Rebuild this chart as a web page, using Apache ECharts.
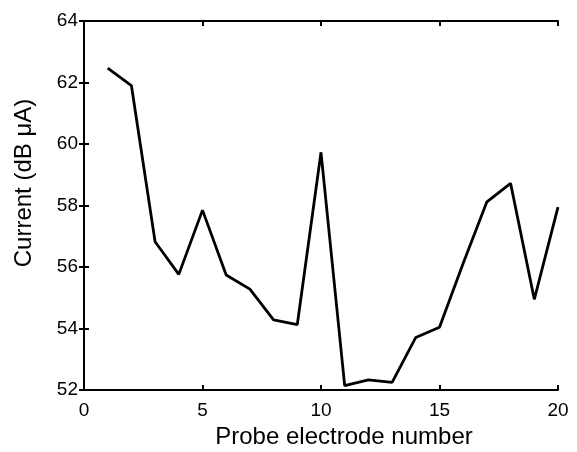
<!DOCTYPE html>
<html>
<head>
<meta charset="utf-8">
<script src="https://cdn.jsdelivr.net/npm/echarts@6/dist/echarts.min.js"></script>
<style>
html,body{margin:0;padding:0;background:#fff;}
#chart{width:577px;height:452px;}
</style>
</head>
<body>
<div id="chart"></div>
<script>
var electrodes = [1,2,3,4,5,6,7,8,9,10,11,12,13,14,15,16,17,18,19,20];
var current = [62.47,61.9,56.82,55.76,57.85,55.74,55.28,54.28,54.13,59.73,52.14,52.33,52.25,53.71,54.04,56.12,58.12,58.72,54.95,57.95];
var xTicks = [0,5,10,15,20];
var yTicks = [52,54,56,58,60,62,64];

var font = 'Liberation Sans, Arial, Helvetica, sans-serif';
var chart = echarts.init(document.getElementById('chart'));
var axisLineStyle = {show:true, lineStyle:{color:'#000', width:2}};
var tickStyle = {show:true, inside:true, length:5, lineStyle:{color:'#000', width:2}};
chart.setOption({
  animation:false,
  backgroundColor:'#fff',
  grid:{left:84, right:19, top:21, bottom:62, outerBoundsMode:'none', containLabel:false},
  xAxis:[{
    type:'value', min:xTicks[0], max:xTicks[xTicks.length-1], interval:5,
    position:'bottom',
    name:'Probe electrode number', nameLocation:'middle', nameGap:33,
    nameTextStyle:{fontFamily:font, fontSize:24, color:'#000', padding:[0,0,0,46]},
    axisLine:axisLineStyle, axisTick:tickStyle, splitLine:{show:false},
    axisLabel:{fontFamily:font, fontSize:19, color:'#000', margin:11}
  },{
    type:'value', min:xTicks[0], max:xTicks[xTicks.length-1], interval:5,
    position:'top',
    axisLine:axisLineStyle, axisTick:tickStyle, splitLine:{show:false},
    axisLabel:{show:false}
  }],
  yAxis:[{
    type:'value', min:yTicks[0], max:yTicks[yTicks.length-1], interval:2,
    position:'left',
    name:'Current (dB \u03bcA)', nameLocation:'middle', nameGap:48,
    nameTextStyle:{fontFamily:font, fontSize:24, color:'#000', padding:[0,0,0,45]},
    axisLine:axisLineStyle, axisTick:tickStyle, splitLine:{show:false},
    axisLabel:{fontFamily:font, fontSize:19, color:'#000', margin:6}
  },{
    type:'value', min:yTicks[0], max:yTicks[yTicks.length-1], interval:2,
    position:'right',
    axisLine:axisLineStyle, axisTick:tickStyle, splitLine:{show:false},
    axisLabel:{show:false}
  }],
  series:[{
    type:'line',
    data:electrodes.map(function(x,i){return [x, current[i]];}),
    symbol:'none',
    lineStyle:{color:'#000', width:2.8},
    clip:true
  }]
});
</script>
</body>
</html>
